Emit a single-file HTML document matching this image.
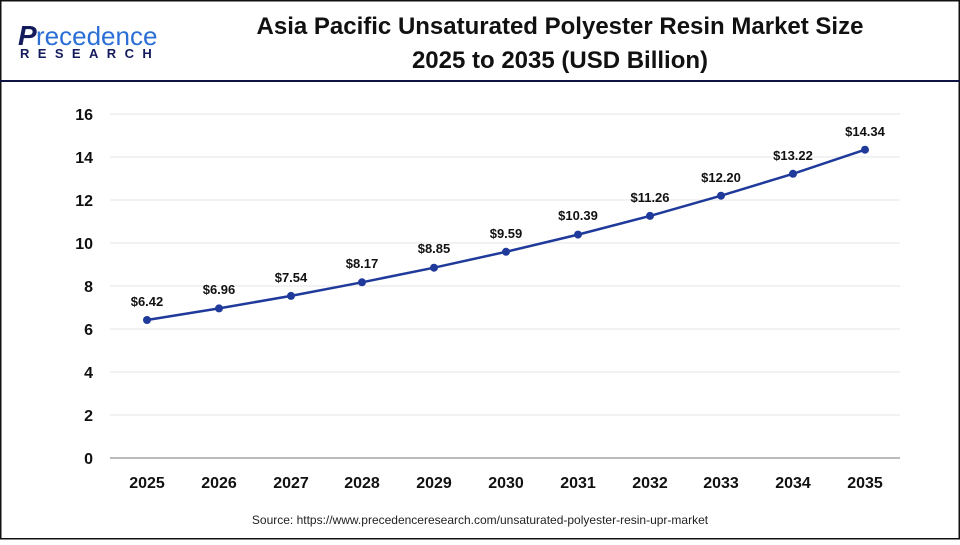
<!DOCTYPE html><html><head><style>
body{margin:0;}
svg text{font-family:"Liberation Sans",Arial,sans-serif;}
</style></head><body>
<svg width="960" height="540" xmlns="http://www.w3.org/2000/svg">
<rect x="0" y="0" width="960" height="540" fill="#fff"/>
<rect x="0.75" y="0.75" width="958.5" height="538" fill="none" stroke="#111" stroke-width="1.5"/>
<line x1="0" y1="81" x2="960" y2="81" stroke="#0d1445" stroke-width="2"/>
<text x="18" y="45" font-size="28" fill="#141b5c" font-style="italic" font-weight="bold">P</text>
<text x="36" y="45" font-size="26" fill="#2b6fd6">recedence</text>
<text x="20" y="58" font-size="13" fill="#141b5c" font-weight="bold" letter-spacing="8.4">RESEARCH</text>
<text x="560" y="34" font-size="24" font-weight="bold" text-anchor="middle" fill="#111">Asia Pacific Unsaturated Polyester Resin Market Size</text>
<text x="560" y="68" font-size="24" font-weight="bold" text-anchor="middle" fill="#111">2025 to 2035 (USD Billion)</text>
<g stroke="#e6e6e6" stroke-width="1">
<line x1="110" x2="900" y1="114" y2="114"/><line x1="110" x2="900" y1="157" y2="157"/>
<line x1="110" x2="900" y1="200" y2="200"/><line x1="110" x2="900" y1="243" y2="243"/>
<line x1="110" x2="900" y1="286" y2="286"/><line x1="110" x2="900" y1="329" y2="329"/>
<line x1="110" x2="900" y1="372" y2="372"/><line x1="110" x2="900" y1="415" y2="415"/>
</g>
<line x1="110" x2="900" y1="458" y2="458" stroke="#bbb" stroke-width="2"/>
<g font-size="16" font-weight="bold" fill="#111" text-anchor="end">
<text x="93" y="120">16</text><text x="93" y="163">14</text><text x="93" y="206">12</text><text x="93" y="249">10</text>
<text x="93" y="292">8</text><text x="93" y="335">6</text><text x="93" y="378">4</text><text x="93" y="421">2</text><text x="93" y="464">0</text>
</g>
<g font-size="16" font-weight="bold" fill="#111" text-anchor="middle">
<text x="147" y="488">2025</text><text x="219" y="488">2026</text><text x="291" y="488">2027</text><text x="362" y="488">2028</text>
<text x="434" y="488">2029</text><text x="506" y="488">2030</text><text x="578" y="488">2031</text><text x="650" y="488">2032</text>
<text x="721" y="488">2033</text><text x="793" y="488">2034</text><text x="865" y="488">2035</text>
</g>
<polyline fill="none" stroke="#1f3a9a" stroke-width="2.5" points="147,320 219,308.4 291,295.9 362,282.3 434,267.7 506,251.8 578,234.6 650,215.9 721,195.7 793,173.8 865,149.7"/>
<g fill="#1f3a9a">
<circle cx="147" cy="320" r="4"/><circle cx="219" cy="308.4" r="4"/><circle cx="291" cy="295.9" r="4"/><circle cx="362" cy="282.3" r="4"/>
<circle cx="434" cy="267.7" r="4"/><circle cx="506" cy="251.8" r="4"/><circle cx="578" cy="234.6" r="4"/><circle cx="650" cy="215.9" r="4"/>
<circle cx="721" cy="195.7" r="4"/><circle cx="793" cy="173.8" r="4"/><circle cx="865" cy="149.7" r="4"/>
</g>
<g font-size="13" font-weight="bold" fill="#111" text-anchor="middle">
<text x="147" y="306">$6.42</text><text x="219" y="294">$6.96</text><text x="291" y="282">$7.54</text><text x="362" y="268">$8.17</text>
<text x="434" y="253">$8.85</text><text x="506" y="238">$9.59</text><text x="578" y="220">$10.39</text><text x="650" y="202">$11.26</text>
<text x="721" y="182">$12.20</text><text x="793" y="160">$13.22</text><text x="865" y="136">$14.34</text>
</g>
<text x="480" y="524" font-size="12" fill="#222" text-anchor="middle">Source: https://www.precedenceresearch.com/unsaturated-polyester-resin-upr-market</text>
</svg>
</body></html>
